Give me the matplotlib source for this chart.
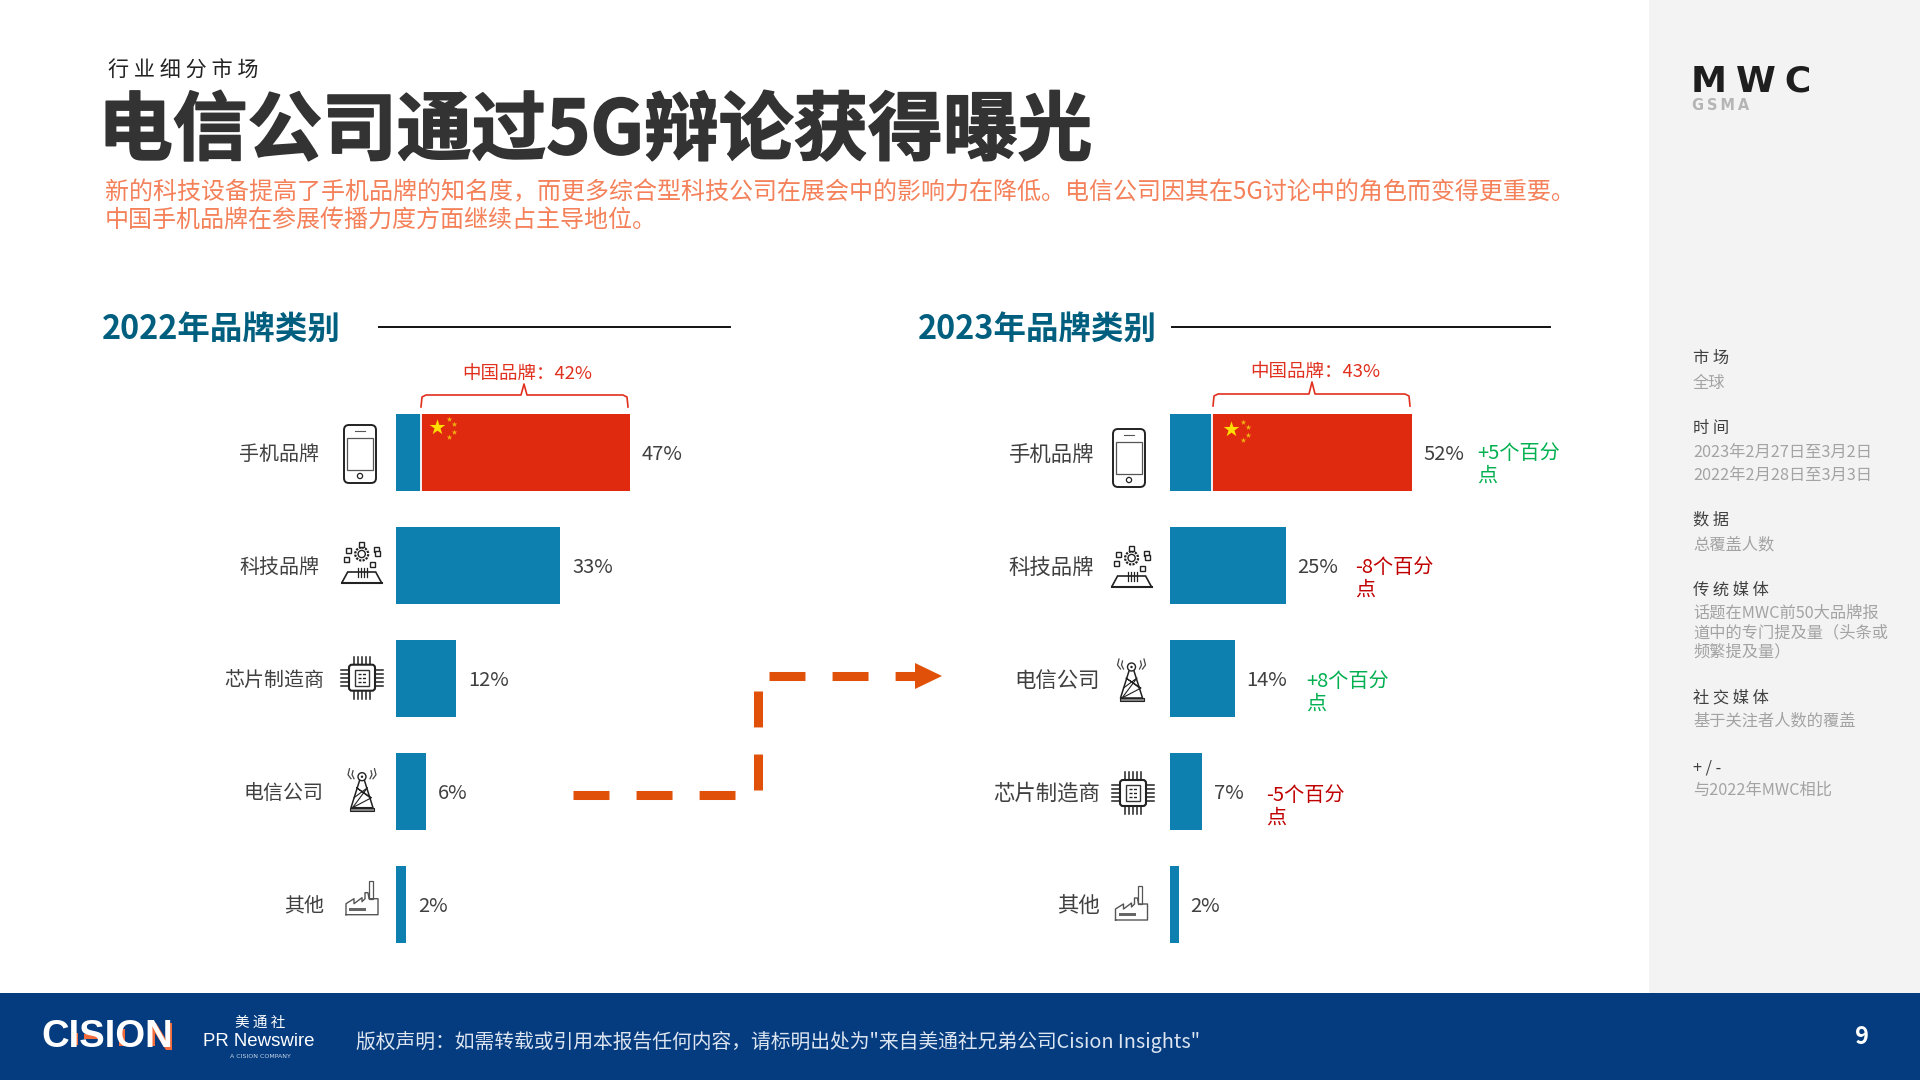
import matplotlib
matplotlib.use("Agg")
import matplotlib.pyplot as plt
from matplotlib.patches import Rectangle, FancyBboxPatch, Circle, Polygon
import matplotlib.patheffects as pe

plt.rcParams['font.family'] = ['Noto Sans CJK SC', 'DejaVu Sans']
plt.rcParams['lines.scale_dashes'] = False

# ---- data ----
categories_2022 = ['手机品牌', '科技品牌', '芯片制造商', '电信公司', '其他']
values_2022 = [47, 33, 12, 6, 2]
china_2022 = 42
categories_2023 = ['手机品牌', '科技品牌', '电信公司', '芯片制造商', '其他']
values_2023 = [52, 25, 14, 7, 2]
china_2023 = 43
deltas_2023 = ['+5个百分\n点', '-8个百分\n点', '+8个百分\n点', '-5个百分\n点', '']
delta_colors = ['#00B050', '#C00000', '#00B050', '#C00000', None]
delta_offsets = [65, 68.5, 71, 64, 0]
delta_dy = [-9, -9.8, -10.5, -11, 0]
label_right_2022 = [319, 319, 324, 324, 324]
label_right_2023 = [1094, 1094, 1100, 1100, 1100]

title = '电信公司通过5G辩论获得曝光'
kicker = '行 业 细 分 市 场'
subtitle_lines = ['新的科技设备提高了手机品牌的知名度，而更多综合型科技公司在展会中的影响力在降低。电信公司因其在5G讨论中的角色而变得更重要。',
                  '中国手机品牌在参展传播力度方面继续占主导地位。']
footer_text = '版权声明：如需转载或引用本报告任何内容，请标明出处为"来自美通社兄弟公司Cision Insights"'
sidebar = [
    ('市 场', 358, ['全球'], [383]),
    ('时 间', 428, ['2023年2月27日至3月2日', '2022年2月28日至3月3日'], [452, 475]),
    ('数 据', 520, ['总覆盖人数'], [545]),
    ('传 统 媒 体', 590, ['话题在MWC前50大品牌报', '道中的专门提及量（头条或', '频繁提及量）'], [613, 633, 652]),
    ('社 交 媒 体', 698, ['基于关注者人数的覆盖'], [721]),
    ('+ / -', 768, ['与2022年MWC相比'], [790]),
]

W, H = 1920, 1080
BLUE = '#0E80B0'
RED = '#DF2A10'
DARK = '#404040'
fig = plt.figure(figsize=(W / 100, H / 100), dpi=100, facecolor='white')


def make_bars(x0, px_per_pct, vals, china, label_off):
    top, slot = 396, 113
    ax = fig.add_axes([x0 / W, 1 - (top + 5 * slot) / H, 70 * px_per_pct / W, 5 * slot / H],
                      zorder=2)
    ax.patch.set_alpha(0)
    ax.set_xlim(0, 70)
    ax.set_ylim(4.5, -0.5)
    ax.axis('off')
    pos = range(len(vals))
    ax.barh(pos, vals, height=0.68, color=BLUE, linewidth=0)
    other = vals[0] - china
    ax.barh(0, china, left=other, height=0.68, color=RED, linewidth=0)
    ax.vlines(other, -0.34, 0.34, color='white', lw=1.3)
    for i, v in zip(pos, vals):
        ax.annotate(f'{v}%', (v, i), xytext=(label_off, -1.6), textcoords='offset points',
                    ha='left', va='center', fontsize=14.5, color=DARK)
    return ax


ax1 = make_bars(396, 4.97, values_2022, china_2022, 8.8)
ax2 = make_bars(1169.5, 4.67, values_2023, china_2023, 8.2)
for i, (d, c, off, dy) in enumerate(zip(deltas_2023, delta_colors, delta_offsets, delta_dy)):
    if d:
        ax2.annotate(d, (values_2023[i], i), xytext=(off * 0.72, dy), textcoords='offset points',
                     ha='left', va='center', fontsize=14.5, color=c, linespacing=1.1)

# pixel overlay
ov = fig.add_axes([0, 0, 1, 1], zorder=3)
ov.patch.set_alpha(0)
ov.set_xlim(0, W)
ov.set_ylim(H, 0)
ov.axis('off')

ov.add_patch(Rectangle((1649, 0), W - 1649, 993, color='#F3F3F3', lw=0))
ov.add_patch(Rectangle((0, 993), W, H - 993, color='#053C80', lw=0))

ov.text(108, 70.5, kicker, fontsize=15.2, color='#222222', va='center', ha='left')
ov.text(98, 132, title, fontsize=53.8, fontweight='bold', color='#333333', va='center', ha='left',
        path_effects=[pe.withStroke(linewidth=1.2, foreground='#333333')])
ov.text(105, 192.5, subtitle_lines[0], fontsize=17.3, color='#F4815A', va='center', ha='left')
ov.text(105, 220, subtitle_lines[1], fontsize=17.3, color='#F4815A', va='center', ha='left')

for x, t, lx0, lx1 in [(102, '2022年品牌类别', 379, 730), (918, '2023年品牌类别', 1172, 1550)]:
    ov.text(x, 329.5, t, fontsize=23.4, fontweight='bold', color='#005F7F', va='center', ha='left')
    ov.plot([lx0, lx1], [327, 327], color='#111111', lw=1.4)

# category labels
for i, c in enumerate(categories_2022):
    ov.text(label_right_2022[i], 454.5 + 113 * i, c, fontsize=14.4, color=DARK, ha='right', va='center')
for i, c in enumerate(categories_2023):
    ov.text(label_right_2023[i], 454.5 + 113 * i, c, fontsize=15.4, color=DARK, ha='right', va='center')


# braces + china labels
def brace(x0, x1, xm, y_top, y_bot, y_tip, label, ly):
    xs = [x0, x0 + 1, x0 + 5, xm - 3, xm, xm + 3, x1 - 5, x1 - 1, x1]
    ys = [y_bot, y_top + 2, y_top, y_top, y_tip, y_top, y_top, y_top + 2, y_bot]
    ov.plot(xs, ys, color='#E0301E', lw=1.2, solid_joinstyle='round')
    ov.text(xm + 3, ly, label, fontsize=13.3, color='#E0301E', ha='center', va='center')


brace(421, 628, 524, 395, 407, 384, f'中国品牌：{china_2022}%', 374.5)
brace(1213, 1410, 1312, 394, 406, 382, f'中国品牌：{china_2023}%', 372.5)


# flag stars
def stars(cx, cy, small):
    ov.scatter([cx], [cy], marker='*', s=140, color='#FFDE00', lw=0)
    ov.scatter([p[0] for p in small], [p[1] for p in small], marker='*', s=18, color='#F0B010', lw=0)


stars(436.7, 426.7, [(448.7, 419), (454, 424), (454, 432), (449, 437)])
stars(1230.8, 429, [(1243, 421.7), (1248, 426.7), (1248, 434.7), (1243, 439.7)])

# dashed arrow
ORANGE = '#E05008'
dash = dict(color=ORANGE, lw=6.5, dashes=(25.9, 19.5), dash_capstyle='butt')
ov.plot([573, 735], [795, 795], **dash)
ov.plot([757.5, 757.5], [790, 691], **dash)
ov.plot([769, 915], [676, 676], **dash)
ov.add_patch(Polygon([(915, 663), (942, 676), (915, 689)], closed=True, color=ORANGE, lw=0))

# icons
IC = '#222222'


def phone(cx, cy, w=32, h=58):
    ov.add_patch(FancyBboxPatch((cx - w / 2 + 3, cy - h / 2 + 3), w - 6, h - 6,
                                boxstyle='round,pad=3,rounding_size=5', fc='white', ec=IC, lw=1.4))
    ov.add_patch(Rectangle((cx - w / 2 + 3, cy - h / 2 + 13), w - 6, h - 26, fc='white', ec='#555555', lw=0.9))
    ov.add_patch(Circle((cx, cy + h / 2 - 7), 2.6, fc='white', ec=IC, lw=0.9))
    ov.plot([cx - 5, cx + 5], [cy - h / 2 + 5.5, cy - h / 2 + 5.5], color='#555555', lw=0.8)


def tech(cx, cy):
    ov.add_patch(Circle((cx, cy - 9), 6.5, fc='none', ec=IC, lw=1.6, ls=(0, (1.6, 0.9))))
    ov.add_patch(Circle((cx, cy - 9), 3.6, fc='none', ec=IC, lw=1.0))
    for dx, dy in [(-13, -13), (0, -19), (15, -14), (-15, -4), (11, 1)]:
        ov.add_patch(Rectangle((cx + dx - 2.5, cy + dy - 2.5), 5, 5, fc='white', ec=IC, lw=1))
    ov.add_patch(Rectangle((cx + 13, cy - 12), 5, 5, fc='white', ec=IC, lw=1))
    ov.add_patch(Polygon([(cx - 20, cy + 20), (cx - 14, cy + 9), (cx + 14, cy + 9), (cx + 20, cy + 20)],
                         closed=True, fc='none', ec=IC, lw=1.2))
    ov.plot([cx - 20, cx + 20], [cy + 20, cy + 20], color=IC, lw=1.5)
    for dx in (-4, -1, 2, 5):
        ov.plot([cx + dx, cx + dx], [cy + 5, cy + 14], color=IC, lw=0.9)


def chip(cx, cy):
    ov.add_patch(FancyBboxPatch((cx - 11, cy - 11), 22, 22, boxstyle='round,pad=2,rounding_size=3',
                                fc='white', ec=IC, lw=1.5))
    ov.add_patch(Rectangle((cx - 7, cy - 8), 14, 16, fc='none', ec='#333333', lw=1))
    for d in (-8, -4, 0, 4, 8):
        ov.plot([cx + d, cx + d], [cy - 21, cy - 14], color=IC, lw=1.1)
        ov.plot([cx + d, cx + d], [cy + 14, cy + 21], color=IC, lw=1.1)
        ov.plot([cx - 21, cx - 14], [cy + d, cy + d], color=IC, lw=1.1)
        ov.plot([cx + 14, cx + 21], [cy + d, cy + d], color=IC, lw=1.1)
    for dy in (-4, 0, 4):
        ov.plot([cx - 4, cx + 4], [cy + dy, cy + dy], color=IC, lw=1.0, ls=(0, (2.2, 1)))


def tower(cx, cy):
    ov.add_patch(Circle((cx, cy - 14), 4, fc='white', ec=IC, lw=1))
    ov.add_patch(Circle((cx, cy - 14), 1.2, fc=IC, ec=IC, lw=0))
    ov.plot([cx - 2.5, cx - 11, cx + 11, cx + 2.5], [cy - 10, cy + 17, cy + 17, cy - 10], color=IC, lw=1.1)
    ov.plot([cx - 8, cx + 5.5, cx - 9.5, cx + 9.5, cx - 5.5, cx + 8],
            [cy + 7, cy - 3, cy + 17, cy + 7, cy - 3, cy + 7], color=IC, lw=0.8)
    ov.add_patch(Rectangle((cx - 12, cy + 17), 24, 3, fc='#888888', ec=IC, lw=0.8))
    for s in (-1, 1):
        ov.plot([cx + s * 8, cx + s * 10, cx + s * 9], [cy - 12, cy - 16, cy - 20], color='#444444', lw=0.9)
        ov.plot([cx + s * 11, cx + s * 14, cx + s * 12.5], [cy - 12, cy - 16, cy - 22], color='#444444', lw=0.9)


def factory(cx, cy):
    xs = [cx - 16, cx - 16, cx - 8, cx - 8, cx, cx, cx + 3, cx + 3, cx + 6, cx + 7, cx + 11, cx + 16, cx + 16, cx - 16]
    ys = [cy + 14, cy + 3, cy - 2, cy + 3, cy - 3, cy + 1, cy - 2, cy - 8, cy - 8, cy - 2, cy - 2, cy - 2, cy + 14, cy + 14]
    ov.plot(xs, ys, color='#555555', lw=1)
    ov.add_patch(Rectangle((cx + 6.5, cy - 20), 4, 18, fc='white', ec='#555555', lw=0.9))
    ov.add_patch(Rectangle((cx - 13, cy + 7), 17, 3, fc='#666666', ec='none'))


phone(360, 454)
tech(361.7, 563)
chip(362, 677.7)
tower(362, 790.7)
factory(362, 900.7)
phone(1129, 458)
tech(1131.6, 567)
tower(1131.5, 681)
chip(1133, 793)
factory(1131.5, 906)

# MWC logo
ov.text(1691, 92, 'M\u2005W\u2005C', fontsize=26, fontweight='bold', family='DejaVu Sans', color='#1E1E1E', va='baseline', ha='left')
ov.text(1692, 109.5, 'G\u2009S\u2009M\u2009A', fontsize=10.5, fontweight='bold', family='DejaVu Sans', color='#B5B5B5', va='baseline', ha='left')

# sidebar
for head, hy, lines, ys in sidebar:
    ov.text(1693, hy, head, fontsize=11.7, color='#404040', va='center', ha='left')
    for ln, y in zip(lines, ys):
        ov.text(1693, y, ln, fontsize=11.7, color='#A3A3A3', va='center', ha='left')

# footer
ov.text(41, 1037, 'CISION', fontsize=27.5, fontweight='bold', family='Liberation Sans',
        color='white', va='center', ha='left')
ACC = '#F26B3A'
ov.add_patch(Rectangle((71.5, 1033), 6, 12, color=ACC, lw=0))
ov.add_patch(Rectangle((84, 1034), 15, 5, color=ACC, lw=0))
ov.add_patch(Rectangle((119, 1029), 5.5, 17, color=ACC, lw=0))
ov.add_patch(Polygon([(150, 1023), (156, 1023), (167, 1041), (167, 1023), (172, 1023), (172, 1050),
                      (166, 1050), (155, 1033), (155, 1046), (150, 1046)], closed=True, color=ACC, lw=0))
ov.text(260, 1023, '美 通 社', fontsize=10.5, color='white', ha='center', va='center')
ov.text(259, 1041, 'PR Newswire', fontsize=13.4, color='white', ha='center', va='center',
        family='Liberation Sans')
ov.text(260, 1056, 'A CISION COMPANY', fontsize=4.5, color='#C8D4E4', ha='center', va='center', family='DejaVu Sans')
ov.text(356, 1042, footer_text, fontsize=14.25, color='#DCE5F0', ha='left', va='center')
ov.text(1862, 1037, '9', fontsize=17, fontweight='bold', color='white', ha='center', va='center')

fig.savefig('out.png', dpi=100, facecolor='white')
